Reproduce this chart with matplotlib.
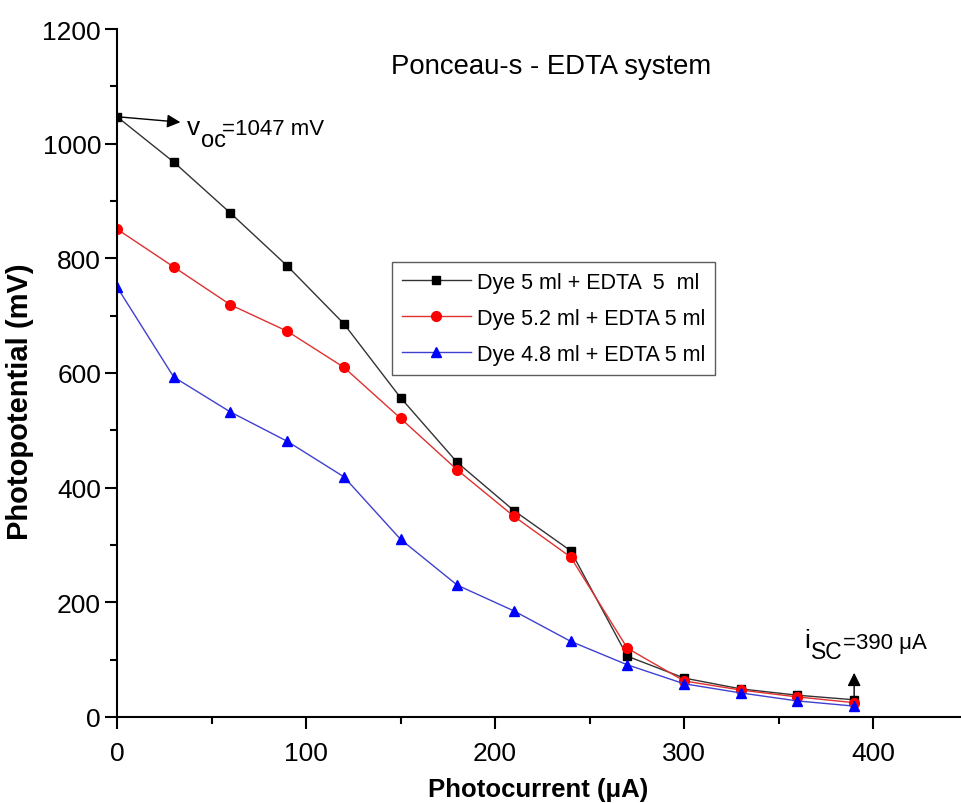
import numpy as np
import matplotlib
matplotlib.use("Agg")
import matplotlib.pyplot as plt
from matplotlib.ticker import MultipleLocator

plt.rcParams['font.family'] = ['Liberation Sans', 'DejaVu Sans']

# 数据
current = [0, 30, 60, 90, 120, 150, 180, 210, 240, 270, 300, 330, 360, 390]
dye_5_0 = [1047, 968, 879, 787, 686, 557, 444, 360, 290, 106, 68, 49, 38, 30]
dye_5_2 = [851, 785, 719, 673, 610, 521, 431, 350, 279, 120, 63, 47, 35, 25]
dye_4_8 = [750, 593, 532, 481, 419, 310, 230, 185, 132, 91, 58, 42, 28, 19]
labels = ["Dye 5 ml + EDTA  5  ml", "Dye 5.2 ml + EDTA 5 ml", "Dye 4.8 ml + EDTA 5 ml"]

fig = plt.figure(figsize=(9.61, 8.04), dpi=100)
ax = fig.add_axes([117/961, 1-718/804, (960-117)/961, (718-30)/804])

ax.plot(current, dye_5_0, color="#333333", lw=1.0, marker="s", ms=6,
        mfc="black", mec="black", label=labels[0])
ax.plot(current, dye_5_2, color="#e03030", lw=1.0, marker="o", ms=7,
        mfc="red", mec="red", label=labels[1])
ax.plot(current, dye_4_8, color="#4040d0", lw=1.0, marker="^", ms=7.5,
        mfc="blue", mec="blue", label=labels[2])

ax.set_xlim(0, 446)
ax.set_ylim(0, 1200)
ax.xaxis.set_major_locator(MultipleLocator(100))
ax.xaxis.set_minor_locator(MultipleLocator(50))
ax.yaxis.set_major_locator(MultipleLocator(200))
ax.yaxis.set_minor_locator(MultipleLocator(100))
ax.spines['top'].set_visible(False)
ax.spines['right'].set_visible(False)
for s in ['left', 'bottom']:
    ax.spines[s].set_linewidth(1.5)
    ax.spines[s].set_clip_on(False)
ax.tick_params(which='major', direction='out', length=8.5, width=1.5, labelsize=19)
ax.tick_params(which='minor', direction='out', length=5, width=1.5)
ax.tick_params(axis='x', which='major', pad=9)
ax.tick_params(axis='y', which='major', pad=3)

ax.set_xlabel("Photocurrent (\u03bcA)", fontsize=18.5, fontweight='bold', va='top')
ax.xaxis.set_label_coords(0.5, -0.087)
ax.set_ylabel("Photopotential (mV)", fontsize=21, fontweight='bold')
ax.yaxis.set_label_coords(-0.098, 0.46)

ax.text(0.515, 0.965, "Ponceau-s - EDTA system", transform=ax.transAxes,
        fontsize=19.8, ha='center', va='top')

leg = ax.legend(loc='upper left', bbox_to_anchor=((392-117)/843, 1-(263-30)/688),
                borderaxespad=0, fontsize=15.5, frameon=True, fancybox=False,
                edgecolor='#333333', handlelength=3.2, handletextpad=0.3,
                borderpad=0.45, labelspacing=0.7)
leg.get_frame().set_linewidth(1.0)

ax.annotate("", xy=(35, 1037), xytext=(0, 1047),
            arrowprops=dict(arrowstyle="-|>", color="black", lw=1.0, mutation_scale=20))
ax.text(37, 1017, "v", fontsize=19, va='baseline')
ax.text(44.5, 996, "oc", fontsize=17, va='baseline')
ax.text(55.5, 1017, "=1047 mV", fontsize=16, va='baseline')

ax.annotate("", xy=(390, 82), xytext=(390, 32),
            arrowprops=dict(arrowstyle="-|>", color="black", lw=1.0, mutation_scale=20))
ax.text(363.6, 122, "i", fontsize=19, va='baseline')
ax.text(367.2, 103, "SC", fontsize=16.5, va='baseline')
ax.text(384, 120, "=390 \u03bcA", fontsize=16, va='baseline')

fig.savefig("out.png", dpi=100)
